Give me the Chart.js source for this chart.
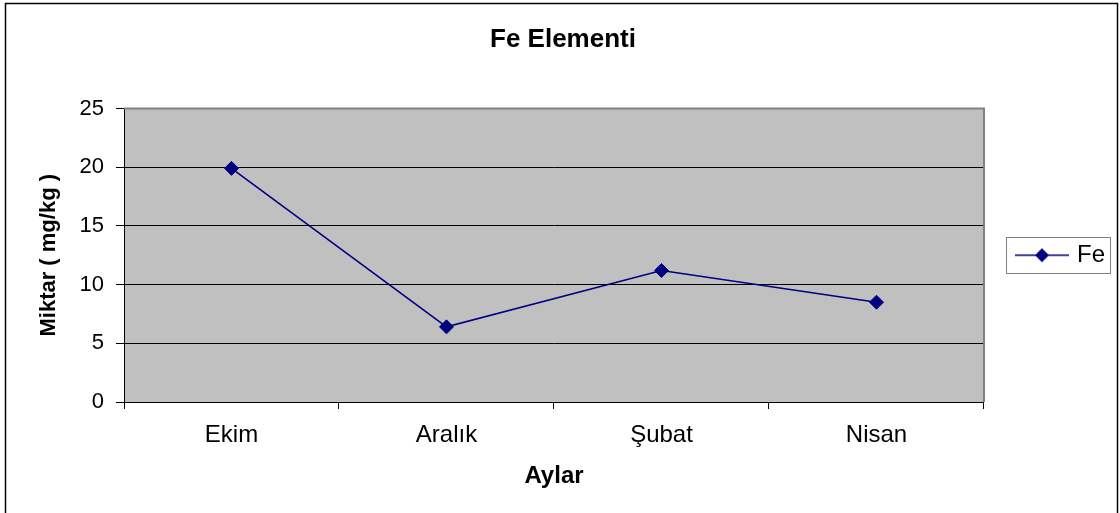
<!DOCTYPE html>
<html>
<head>
<meta charset="utf-8">
<script src="https://cdn.jsdelivr.net/npm/chart.js@4/dist/chart.umd.min.js"></script>
<style>
  html, body { margin: 0; padding: 0; background: #fff; }
  #wrap { width: 1120px; height: 513px; }
</style>
</head>
<body>
<div id="wrap"><canvas id="feChart"></canvas></div>
<script>
const months = ["Ekim", "Aralık", "Şubat", "Nisan"];
const feValues = [19.9, 6.4, 11.2, 8.5];
const yTicks = [0, 5, 10, 15, 20, 25];

const FONT = '"Liberation Sans", Arial, sans-serif';
const NAVY = "#000080";

// legend symbol: short line with a diamond in the middle
const legendMark = document.createElement("canvas");
legendMark.width = 54;
legendMark.height = 16;
(() => {
  const c = legendMark.getContext("2d");
  c.strokeStyle = NAVY;
  c.lineWidth = 1.5;
  c.beginPath();
  c.moveTo(0, 8);
  c.lineTo(54, 8);
  c.stroke();
  c.fillStyle = NAVY;
  c.beginPath();
  c.moveTo(27, 1);
  c.lineTo(34, 8);
  c.lineTo(27, 15);
  c.lineTo(20, 8);
  c.closePath();
  c.fill();
})();

const frame = {
  id: "frame",
  beforeDraw(chart) {
    const { ctx, chartArea: a } = chart;
    ctx.save();
    ctx.fillStyle = "#c0c0c0";
    ctx.fillRect(a.left, a.top, a.right - a.left, a.bottom - a.top);
    ctx.restore();
  },
  afterDatasetsDraw(chart) {
    const { ctx, chartArea: a } = chart;
    ctx.save();
    ctx.strokeStyle = "#808080";
    ctx.lineWidth = 2;
    ctx.beginPath();
    ctx.moveTo(a.left, a.top);
    ctx.lineTo(a.right, a.top);
    ctx.lineTo(a.right, a.bottom);
    ctx.stroke();
    ctx.restore();
  },
  afterDraw(chart) {
    const { ctx } = chart;
    ctx.save();
    ctx.strokeStyle = "#000";
    ctx.lineWidth = 1.5;
    ctx.strokeRect(5.5, 3.5, 1112, 530);
    const hb = chart.legend && chart.legend.legendHitBoxes[0];
    if (hb) {
      ctx.strokeStyle = "#808080";
      ctx.lineWidth = 1;
      const cy = hb.top + hb.height / 2;
      ctx.strokeRect(Math.round(hb.left - 13) + 0.5, Math.round(cy - 18) + 0.5, 104, 36);
    }
    ctx.restore();
  },
};

new Chart(document.getElementById("feChart"), {
  type: "line",
  data: {
    labels: months,
    datasets: [
      {
        label: "Fe",
        data: feValues,
        borderColor: NAVY,
        backgroundColor: NAVY,
        borderWidth: 1.6,
        tension: 0,
        pointStyle: "rectRot",
        pointRadius: 7,
        pointHoverRadius: 7,
        pointBorderWidth: 1,
      },
    ],
  },
  options: {
    responsive: true,
    maintainAspectRatio: false,
    animation: false,
    layout: { padding: { left: 11, right: 5, top: 0, bottom: 0 } },
    plugins: {
      title: {
        display: true,
        text: "Fe Elementi",
        color: "#000",
        font: { family: FONT, size: 26, weight: "bold" },
        padding: { top: 24.4, bottom: 52.9 },
      },
      legend: {
        position: "right",
        fullSize: false,
        align: "center",
        labels: {
          usePointStyle: true,
          pointStyle: legendMark,
          pointStyleWidth: 46,
          padding: 35,
          color: "#000",
          font: { family: FONT, size: 24 },
        },
      },
      tooltip: { enabled: false },
    },
    scales: {
      x: {
        offset: true,
        afterFit(scale) {
          scale.height = 111;
        },
        grid: {
          offset: true,
          drawOnChartArea: false,
          drawTicks: true,
          tickLength: 7,
          color: "#000",
          tickColor: "#000",
        },
        border: { color: "#000", width: 1 },
        ticks: {
          color: "#000",
          padding: 11.6,
          font: { family: FONT, size: 24 },
        },
        title: {
          display: true,
          text: "Aylar",
          color: "#000",
          font: { family: FONT, size: 24, weight: "bold" },
          padding: { top: 0, bottom: 22.6 },
        },
      },
      y: {
        min: 0,
        max: 25,
        afterFit(scale) {
          scale.width = 113;
        },
        afterBuildTicks(scale) {
          scale.ticks = yTicks.map((v) => ({ value: v }));
        },
        grid: {
          color: (c) => (c.tick && c.tick.value === 25 ? "#808080" : "#000"),
          tickColor: "#000",
          tickLength: 8,
          lineWidth: 1,
        },
        border: { color: "#000", width: 1 },
        ticks: {
          color: "#000",
          padding: 12,
          font: { family: FONT, size: 22 },
        },
        title: {
          display: true,
          text: "Miktar ( mg/kg )",
          color: "#000",
          font: { family: FONT, size: 22, weight: "bold" },
          padding: { top: 24.8, bottom: 0 },
        },
      },
    },
  },
  plugins: [frame],
});
</script>
</body>
</html>
